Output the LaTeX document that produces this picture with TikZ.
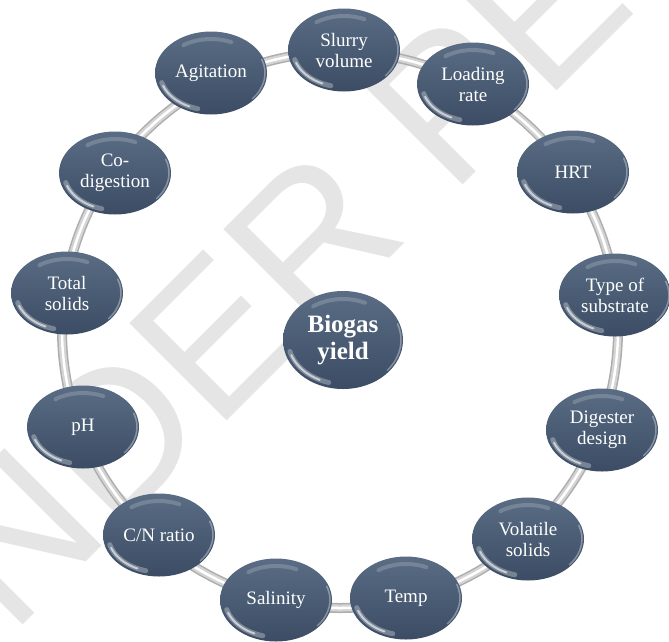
\documentclass[tikz,border=0pt]{standalone}
\usepackage{fontspec}
\setmainfont{Liberation Serif}
\newfontfamily\stampfont{Liberation Sans}
\usetikzlibrary{shapes.geometric,backgrounds}
\definecolor{slatetop}{HTML}{5A6D84}
\definecolor{slatebot}{HTML}{3B4C64}
\tikzset{
	factor/.style={% glassy ellipses round the ring
		ellipse,
		minimum width=112pt,
		minimum height=83pt,
		inner sep=0pt,
		top color=slatetop,
		bottom color=slatebot,
		text=white,
		align=center,
		font=\fontsize{19}{21}\selectfont,
		glint={51}{37}
	},
	hub/.style={
		factor,
		minimum width=120pt,
		minimum height=98pt,
		font=\fontsize{25}{27}\selectfont\bfseries,
		glint={55}{44}
	},
	glint/.style 2 args={
		path picture={
			\draw[white, opacity=.3, line width=5pt, line cap=round]
				([shift={(195:#1 and #2)}]path picture bounding box.center)
				arc[start angle=195, end angle=255, x radius=#1, y radius=#2];
			\draw[white, opacity=.6, line width=2pt, line cap=round]
				([shift={(200:#1 and #2)}]path picture bounding box.center)
				arc[start angle=200, end angle=245, x radius=#1, y radius=#2];
			\draw[white, opacity=.18, line width=4pt, line cap=round]
				([shift={(65:#1-3 and #2-3)}]path picture bounding box.center)
				arc[start angle=65, end angle=125, x radius=#1-3, y radius=#2-3];
			\draw[white, opacity=.35, line width=1.5pt, line cap=round]
				([shift={(-40:#1+3 and #2+3)}]path picture bounding box.center)
				arc[start angle=-40, end angle=20, x radius=#1+3, y radius=#2+3];
		}
	},
	tube/.style={line width=#1, line cap=round},
	stamp/.style={text=black!10, font=\stampfont\fontsize{200}{200}\selectfont, rotate=45, anchor=base west, inner sep=0pt}
}

\begin{document}
\begin{tikzpicture}[x=1pt, y=1pt]
	\useasboundingbox (0,0) rectangle (669,-641);
	\coordinate (ringc) at (340,-330);

	\node[hub] (biogas) at (343,-340) {Biogas\\yield};

	\node[factor] (slurry) at (344,-50) {Slurry\\volume};
	\node[factor] (loading) at (473,-84) {Loading\\rate};
	\node[factor] (hrt) at (573,-172) {HRT};
	\node[factor] (substrate) at (615,-295) {Type of\\substrate};
	\node[factor] (design) at (602,-430) {Digester\\design};
	\node[factor] (volatile) at (528,-539) {Volatile\\solids};
	\node[factor] (temp) at (406,-598) {Temp};
	\node[factor] (salinity) at (276,-600) {Salinity};
	\node[factor] (cnratio) at (159,-535) {C/N ratio};
	\node[factor] (ph) at (83,-427) {pH};
	\node[factor] (totsolids) at (67,-293) {Total\\solids};
	\node[factor] (codigest) at (115,-173) {Co-\\digestion};
	\node[factor] (agitation) at (211,-73) {Agitation};

	% watermark and ring behind the factors
	\begin{scope}[on background layer]
		\node[stamp] (review) at (-91,-739) {UNDER PEER REVIEW};
		\draw[tube=10pt, black!32] (ringc) circle[radius=278];
		\draw[tube=7pt, black!17] (ringc) circle[radius=278];
		\draw[tube=2.5pt, white] (ringc) circle[radius=278];
	\end{scope}
\end{tikzpicture}
\end{document}
